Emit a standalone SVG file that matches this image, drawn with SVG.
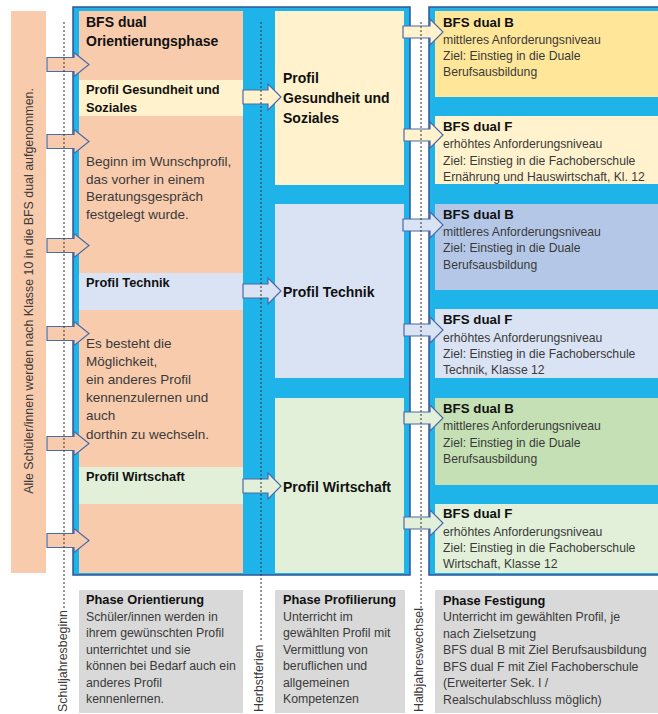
<svg xmlns="http://www.w3.org/2000/svg" width="658" height="714" viewBox="0 0 658 714">
<style>
text{font-family:"Liberation Sans",Arial,sans-serif}
.b{font-weight:bold;fill:#111}
.r{fill:#3a3a3a}
.lb{font-size:12.8px}
.lr{font-size:13.5px}
.rb{font-size:13.3px}
.rr{font-size:12.2px}
.mb{font-size:14px}
.gb{font-size:12.8px}
.gr{font-size:12.3px}
.rot{font-size:12.4px;fill:#3a3a3a}
.panel{fill:#1eb4ea;stroke:#2f5597;stroke-width:1.5}
.arr{stroke:#4a6ba8;stroke-width:1.2}
.dash{stroke:#333;stroke-width:1;stroke-dasharray:2,2;fill:none}
.peach{fill:#f8cbad}
.yel{fill:#fff2cc}
.blu{fill:#dae3f3}
.grn{fill:#e2f0d9}
.gray{fill:#d9d9d9}
</style>

<g id="intake-bar">
<rect x="11" y="11" width="35" height="562" class="peach"/>
<text class="rot" transform="translate(32.5,291) rotate(-90)" text-anchor="middle">Alle Schüler/innen werden nach Klasse 10 in die BFS dual aufgenommen.</text>
</g>

<g id="panel-1">
<rect x="73" y="7" width="337" height="568" class="panel"/>
</g>
<g id="panel-2">
<rect x="429" y="7" width="235" height="568" class="panel"/>
</g>

<g id="orientierung">
<rect x="79" y="11" width="164" height="562" class="peach"/>
<rect x="79" y="80" width="164" height="36" class="yel"/>
<rect x="79" y="273" width="164" height="37" class="blu"/>
<rect x="79" y="467" width="164" height="37" class="grn"/>
<text class="b mb" x="86" y="27">BFS dual</text>
<text class="b mb" x="86" y="46">Orientierungsphase</text>
<text class="b lb" x="86" y="94">Profil Gesundheit und</text>
<text class="b lb" x="86" y="112">Soziales</text>
<text class="r lr" x="86" y="166">Beginn im Wunschprofil,</text>
<text class="r lr" x="86" y="183.5">das vorher in einem</text>
<text class="r lr" x="86" y="201">Beratungsgespräch</text>
<text class="r lr" x="86" y="218.5">festgelegt wurde.</text>
<text class="b lb" x="86" y="287">Profil Technik</text>
<text class="r lr" x="86" y="348">Es besteht die</text>
<text class="r lr" x="86" y="366">Möglichkeit,</text>
<text class="r lr" x="86" y="384">ein anderes Profil</text>
<text class="r lr" x="86" y="402">kennenzulernen und</text>
<text class="r lr" x="86" y="420">auch</text>
<text class="r lr" x="86" y="439">dorthin zu wechseln.</text>
<text class="b lb" x="86" y="481">Profil Wirtschaft</text>
</g>

<g id="profil-gs">
<rect x="275" y="11" width="129" height="174" class="yel"/>
<text class="b mb" x="283" y="83">Profil</text>
<text class="b mb" x="283" y="103">Gesundheit und</text>
<text class="b mb" x="283" y="123">Soziales</text>
</g>
<g id="profil-technik">
<rect x="275" y="204" width="129" height="174" class="blu"/>
<text class="b mb" x="283" y="297">Profil Technik</text>
</g>
<g id="profil-wirtschaft">
<rect x="275" y="398" width="129" height="175" class="grn"/>
<text class="b mb" x="283" y="492">Profil Wirtschaft</text>
</g>

<g id="gs-b">
<rect x="435" y="11" width="223" height="86" fill="#ffe699"/>
<text class="b rb" x="443" y="27">BFS dual B</text>
<text class="r rr" x="443" y="44">mittleres Anforderungsniveau</text>
<text class="r rr" x="443" y="60">Ziel: Einstieg in die Duale</text>
<text class="r rr" x="443" y="76">Berufsausbildung</text>
</g>
<g id="gs-f">
<rect x="435" y="116" width="223" height="68" class="yel"/>
<text class="b rb" x="443" y="131">BFS dual F</text>
<text class="r rr" x="443" y="148">erhöhtes Anforderungsniveau</text>
<text class="r rr" x="443" y="165">Ziel: Einstieg in die Fachoberschule</text>
<text class="r rr" x="443" y="181">Ernährung und Hauswirtschaft, Kl. 12</text>
</g>
<g id="t-b">
<rect x="435" y="204" width="223" height="86" fill="#b4c7e7"/>
<text class="b rb" x="443" y="219">BFS dual B</text>
<text class="r rr" x="443" y="236">mittleres Anforderungsniveau</text>
<text class="r rr" x="443" y="252">Ziel: Einstieg in die Duale</text>
<text class="r rr" x="443" y="269">Berufsausbildung</text>
</g>
<g id="t-f">
<rect x="435" y="309" width="223" height="69" class="blu"/>
<text class="b rb" x="443" y="324">BFS dual F</text>
<text class="r rr" x="443" y="342">erhöhtes Anforderungsniveau</text>
<text class="r rr" x="443" y="358">Ziel: Einstieg in die Fachoberschule</text>
<text class="r rr" x="443" y="374">Technik, Klasse 12</text>
</g>
<g id="w-b">
<rect x="435" y="398" width="223" height="87" fill="#c5e0b4"/>
<text class="b rb" x="443" y="413">BFS dual B</text>
<text class="r rr" x="443" y="430">mittleres Anforderungsniveau</text>
<text class="r rr" x="443" y="447">Ziel: Einstieg in die Duale</text>
<text class="r rr" x="443" y="463">Berufsausbildung</text>
</g>
<g id="w-f">
<rect x="435" y="504" width="223" height="69" class="grn"/>
<text class="b rb" x="443" y="518">BFS dual F</text>
<text class="r rr" x="443" y="536">erhöhtes Anforderungsniveau</text>
<text class="r rr" x="443" y="552">Ziel: Einstieg in die Fachoberschule</text>
<text class="r rr" x="443" y="568">Wirtschaft, Klasse 12</text>
</g>

<g id="phase-orientierung">
<rect x="79" y="590" width="164" height="123" class="gray"/>
<text class="b gb" x="86" y="604">Phase Orientierung</text>
<text class="r gr" x="86" y="621">Schüler/innen werden in</text>
<text class="r gr" x="86" y="637">ihrem gewünschten Profil</text>
<text class="r gr" x="86" y="654">unterrichtet und sie</text>
<text class="r gr" x="86" y="670">können bei Bedarf auch ein</text>
<text class="r gr" x="86" y="687">anderes Profil</text>
<text class="r gr" x="86" y="703">kennenlernen.</text>
</g>
<g id="phase-profilierung">
<rect x="275" y="590" width="130" height="123" class="gray"/>
<text class="b gb" x="283" y="604">Phase Profilierung</text>
<text class="r gr" x="283" y="621">Unterricht im</text>
<text class="r gr" x="283" y="637">gewählten Profil mit</text>
<text class="r gr" x="283" y="654">Vermittlung von</text>
<text class="r gr" x="283" y="670">beruflichen und</text>
<text class="r gr" x="283" y="687">allgemeinen</text>
<text class="r gr" x="283" y="703">Kompetenzen</text>
</g>
<g id="phase-festigung">
<rect x="435" y="590" width="223" height="123" class="gray"/>
<text class="b gb" x="443" y="605">Phase Festigung</text>
<text class="r gr" x="443" y="621">Unterricht im gewählten Profil, je</text>
<text class="r gr" x="443" y="638">nach Zielsetzung</text>
<text class="r gr" x="443" y="654">BFS dual B mit Ziel Berufsausbildung</text>
<text class="r gr" x="443" y="671">BFS dual F mit Ziel Fachoberschule</text>
<text class="r gr" x="443" y="687">(Erweiterter Sek. I /</text>
<text class="r gr" x="443" y="704">Realschulabschluss möglich)</text>
</g>

<g id="connectors">
<g class="arr peach">
<path d="M47,57.5H74V52.5L89,64.5L74,76.5V71.5H47Z"/>
<path d="M47,134.5H74V129.5L89,141.5L74,153.5V148.5H47Z"/>
<path d="M47,238.5H74V233.5L89,245.5L74,257.5V252.5H47Z"/>
<path d="M47,326.5H74V321.5L89,333.5L74,345.5V340.5H47Z"/>
<path d="M47,436.5H74V431.5L89,443.5L74,455.5V450.5H47Z"/>
<path d="M47,533.5H74V528.5L89,540.5L74,552.5V547.5H47Z"/>
</g>
<path class="arr yel" d="M243,90H268V84L281,97L268,110V104H243Z"/>
<path class="arr blu" d="M243,284H268V278L281,291L268,304V298H243Z"/>
<path class="arr grn" d="M243,479H268V473L281,486L268,499V493H243Z"/>
<path class="arr yel" d="M403,26H430V19L443,32L430,45V38H403Z"/>
<path class="arr yel" d="M404,129H430V122L443,135L430,148V141H404Z"/>
<path class="arr blu" d="M403,219H430V212L443,225L430,238V231H403Z"/>
<path class="arr blu" d="M404,324H430V317L443,330L430,343V336H404Z"/>
<path class="arr grn" d="M404,412H430V405L443,418L430,431V424H404Z"/>
<path class="arr grn" d="M404,517H430V510L443,523L430,536V529H404Z"/>
</g>

<g id="timeline">
<line class="dash" x1="64" y1="22" x2="64" y2="608"/>
<line class="dash" x1="261" y1="22" x2="261" y2="642"/>
<line class="dash" x1="421" y1="22" x2="421" y2="611"/>
<text class="rot" transform="translate(66.5,712) rotate(-90)">Schuljahresbeginn</text>
<text class="rot" transform="translate(263,712) rotate(-90)">Herbstferien</text>
<text class="rot" transform="translate(422.5,712) rotate(-90)">Halbjahreswechsel</text>
</g>
</svg>
